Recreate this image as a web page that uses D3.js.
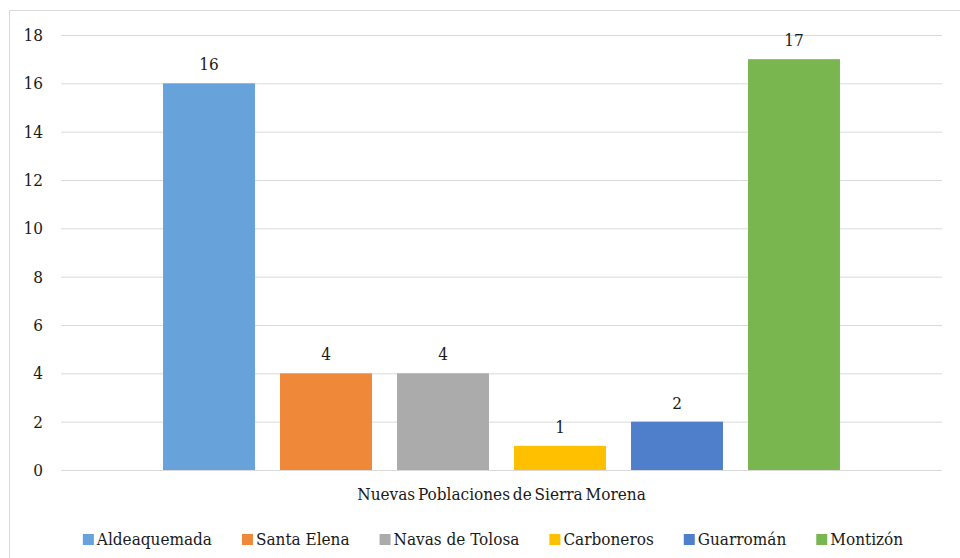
<!DOCTYPE html>
<html>
<head>
<meta charset="utf-8">
<script src="https://cdn.jsdelivr.net/npm/d3@7"></script>
<style>
  body { margin: 0; background: #fff; }
  svg text { font-stretch: condensed; }
</style>
</head>
<body>
<svg width="960" height="558"></svg>
<script>
const categories = ['Aldeaquemada', 'Santa Elena', 'Navas de Tolosa', 'Carboneros', 'Guarromán', 'Montizón']
const values = [16, 4, 4, 1, 2, 17]
const colors = ['#67a3da', '#f0883a', '#ababab', '#ffc000', '#4f7fcb', '#7ab650']
const groupLabel = 'Nuevas Poblaciones de Sierra Morena'
const yTicks = [0, 2, 4, 6, 8, 10, 12, 14, 16, 18]

const fontFamily = '"DejaVu Serif", serif'
const fontSize = 17
const textColor = '#1a1a1a'

const svg = d3.select('svg')
const width = +svg.attr('width')
const height = +svg.attr('height')

// chart frame: only top and left edges are visible in the picture
svg.append('path')
    .attr('d', `M9.5,${height}V10.5H${width}`)
    .attr('fill', 'none')
    .attr('stroke', '#d9d9d9')

const margin = {top: 35, right: 18, bottom: 88, left: 61}
const innerWidth = width - margin.left - margin.right
const innerHeight = height - margin.top - margin.bottom

const g = svg.append('g')
    .attr('transform', `translate(${margin.left},${margin.top})`)

const yScale = d3.scaleLinear()
    .domain([0, 18])
    .range([innerHeight, 0])

// one category group, series side by side inside it
const x0 = d3.scaleBand()
    .domain([groupLabel])
    .range([0, innerWidth])
    .paddingOuter(0.1507)

const x1 = d3.scaleBand()
    .domain(categories)
    .range([0, x0.bandwidth()])
    .paddingInner(0.214)

const yAxis = d3.axisLeft(yScale)
    .tickValues(yTicks)
    .tickSize(-innerWidth)
    .tickPadding(18)

const yAxisG = g.append('g').call(yAxis)
yAxisG.attr('font-family', fontFamily).attr('font-size', fontSize)
yAxisG.select('.domain').remove()
yAxisG.selectAll('.tick line').attr('stroke', '#d9d9d9')
yAxisG.selectAll('.tick text').attr('fill', textColor)

const bars = g.append('g')
    .attr('transform', `translate(${x0(groupLabel)},0)`)

const data = categories.map((c, i) => ({name: c, value: values[i], color: colors[i]}))

bars.selectAll('rect').data(data)
  .enter().append('rect')
    .attr('x', d => x1(d.name))
    .attr('y', d => yScale(d.value))
    .attr('width', x1.bandwidth())
    .attr('height', d => innerHeight - yScale(d.value))
    .attr('fill', d => d.color)

bars.selectAll('.label').data(data)
  .enter().append('text')
    .attr('class', 'label')
    .attr('x', d => x1(d.name) + x1.bandwidth() / 2)
    .attr('y', d => yScale(d.value) - 13)
    .attr('text-anchor', 'middle')
    .attr('font-family', fontFamily)
    .attr('font-size', fontSize)
    .attr('fill', textColor)
    .text(d => d.value)

// category axis title
g.append('text')
    .attr('x', x0(groupLabel) + x0.bandwidth() / 2)
    .attr('y', innerHeight + 30)
    .attr('text-anchor', 'middle')
    .attr('font-family', fontFamily)
    .attr('font-size', fontSize)
    .attr('fill', textColor)
    .attr('word-spacing', -2)
    .text(groupLabel)

// legend, laid out by measured text widths then centred
const legendGap = 30
const legend = svg.append('g')
const items = legend.selectAll('g').data(data)
  .enter().append('g')

items.append('rect')
    .attr('width', 11).attr('height', 11)
    .attr('y', -11)
    .attr('fill', d => d.color)

items.append('text')
    .attr('x', 14)
    .attr('font-family', fontFamily)
    .attr('font-size', fontSize)
    .attr('fill', textColor)
    .text(d => d.name)

let xPos = 0
items.each(function () {
    const item = d3.select(this)
    item.attr('transform', `translate(${xPos},0)`)
    xPos += 14 + item.select('text').node().getComputedTextLength() + legendGap
})
const legendWidth = xPos - legendGap
legend.attr('transform', `translate(${493 - legendWidth / 2},545)`)
</script>
</body>
</html>
